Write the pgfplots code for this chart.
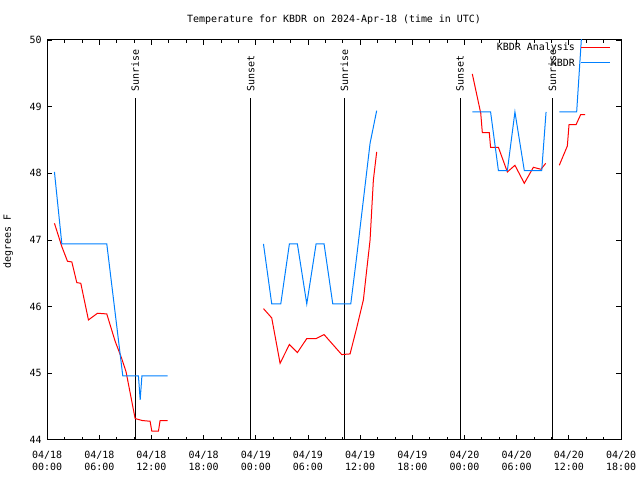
\documentclass[border=0pt]{standalone}
\usepackage{pgfplots}
\pgfplotsset{compat=1.18}
\usepackage{fontspec}
\setmainfont{DejaVu Sans Mono}
\definecolor{kred}{RGB}{255,0,0}
\definecolor{kblue}{RGB}{0,128,255}
\begin{document}
\begin{tikzpicture}
\path (0,0) rectangle (640bp,480bp);
\begin{axis}[
  at={(47bp,40bp)}, anchor=south west,
  width=574bp, height=400bp, scale only axis,
  xmin=0, xmax=66, ymin=44, ymax=50,
  clip mode=individual,
  font=\fontsize{10}{11.7}\selectfont,
  /pgf/number format/assume math mode=true,
  axis line style={line width=1bp},
  tick style={black, line width=0.8bp},
  major tick length=5bp, minor tick length=3bp,
  tick align=inside,
  xtick={0,6,...,66},
  minor x tick num=2,
  xticklabels={{04/18\\00:00},{04/18\\06:00},{04/18\\12:00},{04/18\\18:00},{04/19\\00:00},{04/19\\06:00},{04/19\\12:00},{04/19\\18:00},{04/20\\00:00},{04/20\\06:00},{04/20\\12:00},{04/20\\18:00}},
  xticklabel style={align=center, yshift=-8bp},
  ytick={44,45,...,50},
  yticklabel style={xshift=-2bp},
  title={Temperature for KBDR on 2024-Apr-18 (time in UTC)},
  title style={at={(axis description cs:0.5,1)}, anchor=base, yshift=12bp},
  ylabel={degrees F},
  ylabel style={at={(axis description cs:-0.0679,0.495)}, anchor=center},
]
% event lines
\addplot[black, line width=1bp] coordinates {(10.12,44) (10.12,49.13)};
\addplot[black, line width=1bp] coordinates {(23.42,44) (23.42,49.13)};
\addplot[black, line width=1bp] coordinates {(34.18,44) (34.18,49.13)};
\addplot[black, line width=1bp] coordinates {(47.49,44) (47.49,49.13)};
\addplot[black, line width=1bp] coordinates {(58.10,44) (58.10,49.13)};
\node[rotate=90, anchor=west, inner sep=0pt] at (axis cs:10.12,49.22) {Sunrise};
\node[rotate=90, anchor=west, inner sep=0pt] at (axis cs:23.42,49.22) {Sunset};
\node[rotate=90, anchor=west, inner sep=0pt] at (axis cs:34.18,49.22) {Sunrise};
\node[rotate=90, anchor=west, inner sep=0pt] at (axis cs:47.49,49.22) {Sunset};
\node[rotate=90, anchor=west, inner sep=0pt] at (axis cs:58.10,49.22) {Sunrise};
% KBDR Analysis (red)
\addplot[kred, line width=1bp] coordinates {(0.84,47.25) (1.69,46.90) (2.34,46.68) (2.84,46.67) (3.41,46.36) (3.87,46.35) (4.75,45.80) (5.79,45.90) (6.86,45.89) (7.82,45.48) (8.58,45.22) (9.08,45.02) (10.12,44.32) (10.96,44.29) (11.84,44.28) (12.04,44.13) (12.80,44.13) (12.99,44.29) (13.87,44.29)};
\addplot[kred, line width=1bp] coordinates {(24.88,45.97) (25.83,45.83) (26.79,45.15) (27.86,45.43) (28.78,45.31) (29.86,45.52) (30.93,45.52) (31.85,45.58) (33.88,45.28) (34.84,45.29) (35.60,45.68) (36.37,46.10) (37.14,47.00) (37.52,47.90) (37.90,48.32)};
\addplot[kred, line width=1bp] coordinates {(48.90,49.49) (49.87,48.90) (50.05,48.61) (50.85,48.61) (51.00,48.39) (51.90,48.39) (52.93,48.02) (53.80,48.12) (54.88,47.85) (55.92,48.09) (56.80,48.06) (57.34,48.15)};
\addplot[kred, line width=1bp] coordinates {(58.90,48.12) (59.83,48.41) (60.02,48.73) (60.83,48.73) (61.36,48.88) (61.86,48.88)};
% KBDR (blue)
\addplot[kblue, line width=1bp] coordinates {(0.84,48.02) (1.69,46.94) (6.86,46.94) (8.70,44.96) (10.50,44.96) (10.70,44.60) (10.90,44.96) (13.87,44.96)};
\addplot[kblue, line width=1bp] coordinates {(24.88,46.94) (25.83,46.04) (26.87,46.04) (27.86,46.94) (28.78,46.94) (29.86,46.04) (30.93,46.94) (31.85,46.94) (32.85,46.04) (34.92,46.04) (35.60,46.75) (36.37,47.60) (37.14,48.45) (37.90,48.94)};
\addplot[kblue, line width=1bp] coordinates {(48.90,48.92) (51.00,48.92) (51.90,48.04) (52.93,48.04) (53.80,48.92) (54.88,48.04) (56.88,48.04) (57.38,48.92)};
\addplot[kblue, line width=1bp] coordinates {(58.90,48.92) (60.90,48.92) (61.88,50.90)};
% legend
\node[anchor=east, inner sep=0pt] at (axis description cs:0.920,0.98) {KBDR Analysis};
\draw[kred, line width=1bp] (axis description cs:0.930,0.98) -- (axis description cs:0.981,0.98);
\node[anchor=east, inner sep=0pt] at (axis description cs:0.920,0.9425) {KBDR};
\draw[kblue, line width=1bp] (axis description cs:0.930,0.9425) -- (axis description cs:0.981,0.9425);
\end{axis}
\end{tikzpicture}
\end{document}
